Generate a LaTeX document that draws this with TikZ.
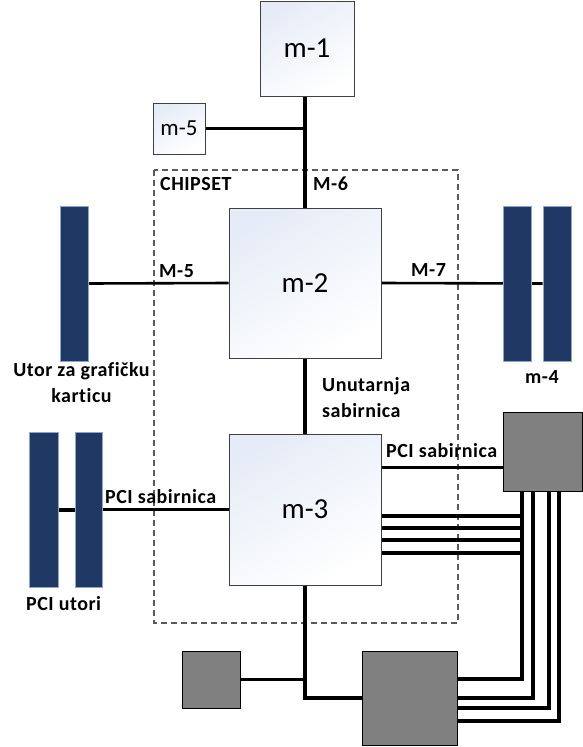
\documentclass[tikz,border=0pt]{standalone}
\usepackage{fontspec}
\setmainfont{Carlito}[Ligatures=NoCommon]
\usetikzlibrary{calc}
\pgfdeclarelayer{bg}
\pgfsetlayers{bg,main}
\definecolor{navy}{RGB}{32,56,100}
\definecolor{navyedge}{RGB}{140,165,200}
\definecolor{boxgray}{RGB}{128,128,128}
\definecolor{boxtint}{RGB}{230,236,247}
\definecolor{boxedge}{RGB}{64,64,64}
\definecolor{dashgray}{RGB}{90,90,90}
\tikzset{
  whitebox/.style={draw=boxedge, line width=1pt, inner sep=0pt,
    top color=boxtint, bottom color=white, shading angle=30,
    font=\fontsize{29}{33}\selectfont},
  smallwhitebox/.style={whitebox, font=\fontsize{23}{27}\selectfont},
  slotbar/.style={draw=navyedge, line width=0.8pt, fill=navy, inner sep=0pt},
  graybox/.style={draw=black, line width=1pt, fill=boxgray, inner sep=0pt},
  lbl/.style={anchor=base west, inner sep=0pt, font=\bfseries\fontsize{20}{23}\selectfont\addfontfeatures{LetterSpace=2.5}},
  bus/.style={line width=4pt},
  medbus/.style={line width=3.2pt},
  thinbus/.style={line width=2.6pt},
  rbus/.style={line width=4pt},
  chipsetbox/.style={draw=dashgray, line width=1.2pt, dash pattern=on 6pt off 4pt}
}
\begin{document}
\begin{tikzpicture}[x=1pt,y=-1pt]
\useasboundingbox (0,0) rectangle (583,747);

% nodes
\node[whitebox, minimum width=94pt, minimum height=95pt] (m1) at (307,48.5) {m-1};
\node[smallwhitebox, minimum width=52pt, minimum height=51pt] (m5) at (179,128.5) {m-5};
\node[whitebox, minimum width=152pt, minimum height=150pt] (m2) at (305,283) {m-2};
\node[whitebox, minimum width=152pt, minimum height=151pt] (m3) at (305,509.5) {m-3};

\node[slotbar, minimum width=28pt, minimum height=155pt] (gslot) at (74,283.5) {};
\node[slotbar, minimum width=28pt, minimum height=155pt] (m4a) at (517,283.5) {};
\node[slotbar, minimum width=28pt, minimum height=155pt] (m4b) at (557,283.5) {};
\node[slotbar, minimum width=29pt, minimum height=155pt] (pci1) at (43.5,509.5) {};
\node[slotbar, minimum width=27pt, minimum height=155pt] (pci2) at (88.5,509.5) {};

\node[graybox, minimum width=79pt, minimum height=79pt] (g1) at (542.5,451.5) {};
\node[graybox, minimum width=95pt, minimum height=94pt] (g2) at (409.5,698) {};
\node[graybox, minimum width=58pt, minimum height=57pt] (g3) at (211,679.5) {};

% coordinates for the right bundle
\coordinate (v1) at ($(g1.south west)+(19,0)$);
\coordinate (v2) at ($(g1.south west)+(30,0)$);
\coordinate (v3) at ($(g1.south west)+(46,0)$);
\coordinate (v4) at ($(g1.south west)+(56,0)$);
\coordinate (e1) at ($(g2.north east)+(0,28)$);
\coordinate (e2) at ($(g2.north east)+(0,47)$);
\coordinate (e3) at ($(g2.north east)+(0,57)$);
\coordinate (e4) at ($(g2.north east)+(0,70)$);
\coordinate (h0) at ($(m3.north east)+(0,34)$);
\coordinate (h1) at ($(m3.north east)+(0,82)$);
\coordinate (h2) at ($(m3.north east)+(0,94)$);
\coordinate (h3) at ($(m3.north east)+(0,106)$);
\coordinate (h4) at ($(m3.north east)+(0,119)$);

\begin{pgfonlayer}{bg}
% chipset dashed frame
\draw[chipsetbox] (154,170) rectangle (458,623);
% connectors
\draw[bus] (m2.north) -- (m2.north |- m1.south);
\draw[medbus] (m5.east) -- (m5.east -| m2.north);
\draw[thinbus] (gslot.east) -- (m2.west);
\draw[thinbus] (m2.east) -- (m4b.west);
\draw[medbus] (m2.south) -- (m3.north);
\draw[bus] (pci1.east) -- (pci2.west);
\draw[thinbus] (pci2.east) -- (m3.west);
\draw[medbus] (h0) -- (h0 -| g1.west);
\foreach \h in {h1,h2,h3,h4} \draw[rbus] (\h) -- (\h -| v1);
\draw[rbus] (v1) |- (e1);
\draw[rbus] (v2) |- (e2);
\draw[rbus] (v3) |- (e3);
\draw[rbus] (v4) |- (e4);
\draw[bus] (m3.south) |- (g2.west);
\draw[medbus] (g3.east) -- (g3.east -| m3.south);
\end{pgfonlayer}

% labels
\node[lbl] (lchip) at (160,190) {CHIPSET};
\node[lbl] (lm6) at (313,190) {M-6};
\node[lbl] (lm5) at (159,277) {M-5};
\node[lbl] (lm7) at (411,276) {M-7};
\node[lbl, anchor=base] (lutor) at (81.5,376) {Utor za grafičku};
\node[lbl, anchor=base] (lkart) at (81.5,402) {karticu};
\node[lbl] (lm4) at (525,383) {m-4};
\node[lbl] (lun) at (322,391) {Unutarnja};
\node[lbl] (lsab) at (322,417) {sabirnica};
\node[lbl] (lpcil) at (105,503) {PCI sabirnica};
\node[lbl] (lpcir) at (386,457) {PCI sabirnica};
\node[lbl] (lpciu) at (26,610) {PCI utori};
\end{tikzpicture}
\end{document}
